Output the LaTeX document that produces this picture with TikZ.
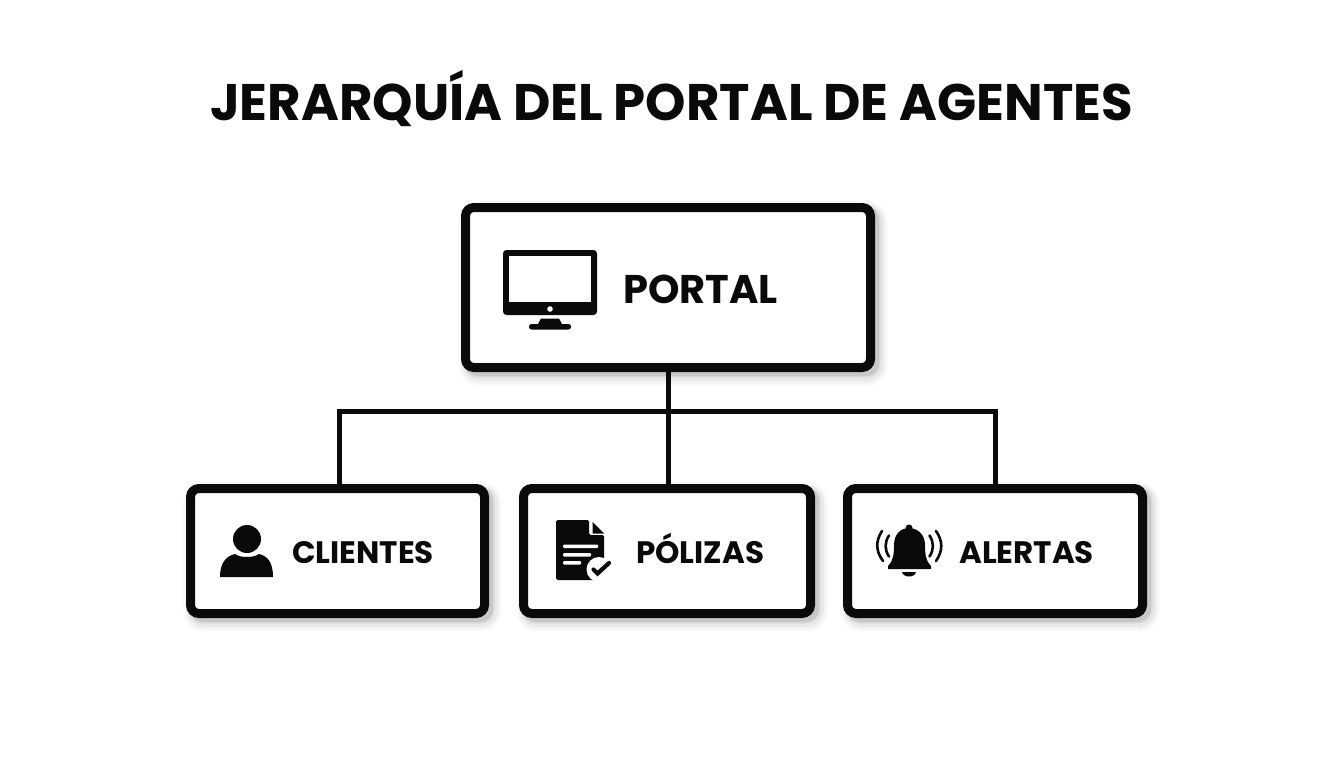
\documentclass[tikz,border=0pt]{standalone}
\usepackage{fontspec}
\setmainfont{Poppins}
\definecolor{ink}{HTML}{0A0A0A}
\tikzset{
  softshadow/.style={
    preaction={draw=black,draw opacity=.02,line width=25pt,transform canvas={shift={(5pt,-6pt)}}},
    preaction={draw=black,draw opacity=.03,line width=20pt,transform canvas={shift={(5pt,-6pt)}}},
    preaction={draw=black,draw opacity=.04,line width=16pt,transform canvas={shift={(5pt,-5pt)}}},
    preaction={draw=black,draw opacity=.06,line width=12pt,transform canvas={shift={(4pt,-4pt)}}},
    preaction={draw=black,draw opacity=.08,line width=9pt,transform canvas={shift={(4pt,-4pt)}}}},
  boxbase/.style={draw=ink,fill=white,line width=9pt,rounded corners=8.5pt,inner sep=0pt,outer sep=0pt,softshadow},
  bigbox/.style={boxbase,minimum width=405pt,minimum height=160pt},
  smallbox/.style={boxbase,minimum height=125pt},
  wire/.style={draw=ink,line width=5pt},
  titletext/.style={anchor=base west,inner sep=0pt,text=ink,font=\fontsize{51.4}{52}\selectfont\bfseries},
  maintext/.style={anchor=base west,inner sep=0pt,text=ink,font=\fontsize{40}{40}\selectfont\bfseries},
  subtext/.style={anchor=base west,inner sep=0pt,text=ink,font=\fontsize{31}{31}\selectfont\bfseries},
  iconfill/.style={fill=ink,draw=none},
  wave/.style={draw=ink,line width=2.6pt,line cap=round}
}
\begin{document}
\begin{tikzpicture}[x=1pt,y=-1pt]
\useasboundingbox (0,0) rectangle (1344,768);
\fill[white] (0,0) rectangle (1344,768);
% coordinates for the bus
\coordinate (busL) at (339,411);
\coordinate (busC) at (668,411);
\coordinate (busR) at (995,411);
% boxes
\node[bigbox] (portal) at (668,287.5) {};
\node[smallbox,minimum width=294pt] (clientes) at (337.5,551) {};
\node[smallbox,minimum width=287pt] (polizas) at (667,551) {};
\node[smallbox,minimum width=295pt] (alertas) at (995,551) {};
% connectors
\draw[wire] (portal.south) -- (busC);
\draw[wire,line cap=butt] ([xshift=-2.5pt]busL) -- ([xshift=2.5pt]busR);
\draw[wire] ([yshift=2.5pt]busL) -- (busL |- clientes.north);
\draw[wire] (busC) -- (busC |- polizas.north);
\draw[wire] ([yshift=2.5pt]busR) -- (busR |- alertas.north);
% title
\node[titletext] (title) at (210,120) {JERARQUÍA DEL PORTAL DE AGENTES};
% labels
\node[maintext] (lportal) at (623,303) {PORTAL};
\node[subtext] (lclientes) at (292,563) {CLIENTES};
\node[subtext] (lpolizas) at (636,563) {PÓLIZAS};
\node[subtext] (lalertas) at (959,563) {ALERTAS};
% monitor icon
\fill[iconfill,rounded corners=3.5pt] (503,250) rectangle (597,315);
\fill[white] (509,255.5) rectangle (591,302);
\fill[white] (550,309) circle (2.8);
\fill[iconfill] (541,318.5) -- (559,318.5) -- (562,324) -- (538,324) -- cycle;
\fill[iconfill,rounded corners=2.5pt] (529,324) rectangle (571,329.5);
% person icon
\fill[iconfill] (247,539) circle (14);
\fill[iconfill] (220,577) .. controls (220,563) and (226,556) .. (235,554)
  .. controls (240,558) and (254,558) .. (259,554)
  .. controls (268,556) and (273,563) .. (273,577) -- cycle;
% document icon
\fill[iconfill,rounded corners=1.5pt] (556,520) -- (589,520) -- (589,535) -- (604,535) -- (604,580) -- (556,580) -- cycle;
\fill[iconfill] (592.5,522) -- (604,533.5) -- (592.5,533.5) -- cycle;
\fill[white,rounded corners=1pt] (563,544.5) rectangle (598,548);
\fill[white,rounded corners=1pt] (563,553) rectangle (591,556.5);
\fill[white,rounded corners=1pt] (563,561) rectangle (581,564.5);
\fill[white] (599,569.5) circle (12.5);
\draw[draw=ink,line width=4.2pt,line cap=round,line join=miter] (593.5,569.5) -- (597.5,573.5) -- (609,563);
% bell icon
\fill[iconfill] (909,528) circle (3.5);
\fill[iconfill] (888,569) -- (888,566) .. controls (894,560) and (894,552) .. (894,545)
  .. controls (894,534) and (901,528) .. (909,528)
  .. controls (917,528) and (925,534) .. (925,545)
  .. controls (925,552) and (925,560) .. (931,566) -- (931,569) -- cycle;
\fill[iconfill] (902,572) -- (916,572) .. controls (915,578) and (903,578) .. (902,572) -- cycle;
\draw[wave] (889,535.5) .. controls (884.5,542) and (884.5,550) .. (889,556.5);
\draw[wave] (929.5,535.5) .. controls (934,542) and (934,550) .. (929.5,556.5);
\draw[wave] (882,531) .. controls (875.5,541) and (875.5,551) .. (883,561);
\draw[wave] (936,531) .. controls (943,541) and (943,551) .. (936,561);
\end{tikzpicture}
\end{document}
